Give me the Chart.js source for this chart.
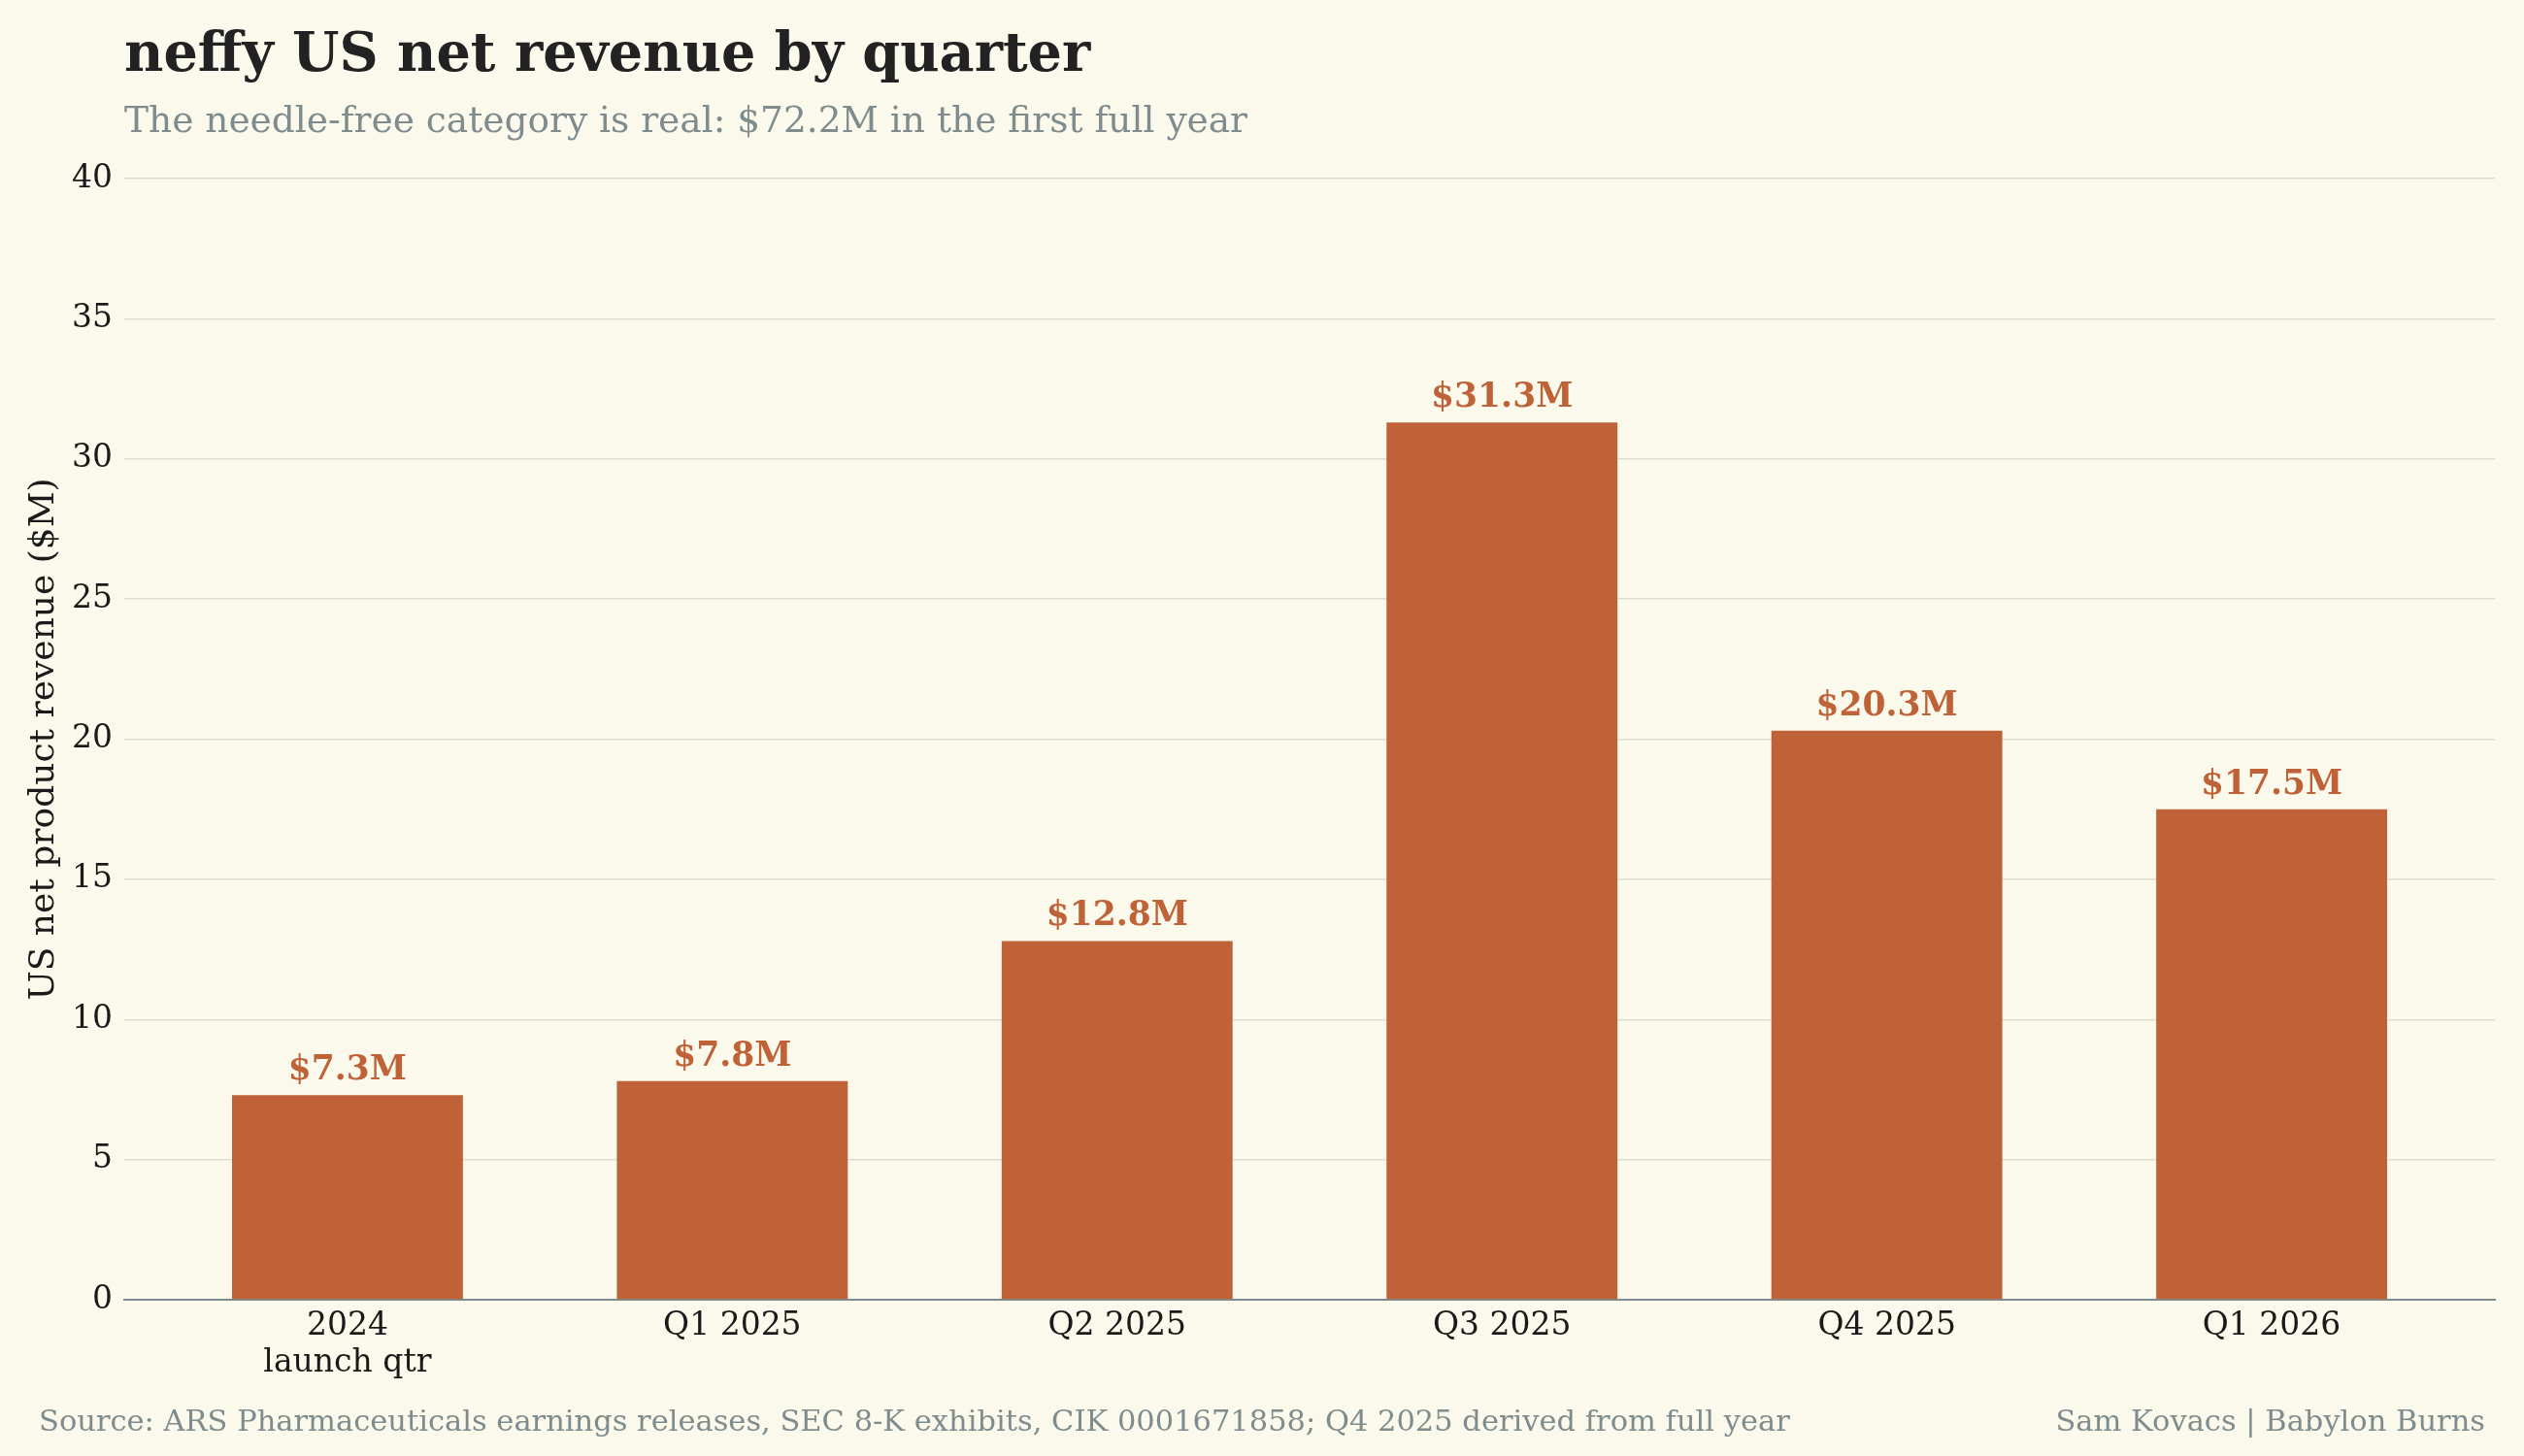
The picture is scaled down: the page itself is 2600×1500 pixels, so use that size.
<!DOCTYPE html>
<html>
<head>
<meta charset="utf-8">
<script src="https://cdn.jsdelivr.net/npm/chart.js@4/dist/chart.umd.min.js"></script>
<style>
  html, body { margin: 0; padding: 0; background: #fbf9ec; }
  #frame { position: relative; width: 2600px; height: 1500px; background: #fbf9ec; font-family: "DejaVu Serif", serif; }
  #chart { position: absolute; left: 0; top: 0; }
  .txt { position: absolute; white-space: nowrap; line-height: 1; }
  #title { left: 128px; top: 26px; font-size: 55.6px; font-weight: bold; color: #222; }
  #subtitle { left: 128px; top: 105px; font-size: 37.5px; color: #7f8c8d; }
  #source { left: 40px; top: 1449px; font-size: 30.5px; color: #7f8c8d; }
  #credit { right: 40px; top: 1449px; font-size: 30.5px; color: #7f8c8d; }
</style>
</head>
<body>
<div id="frame">
  <canvas id="chart" width="2600" height="1500"></canvas>
  <div class="txt" id="title">neffy US net revenue by quarter</div>
  <div class="txt" id="subtitle">The needle-free category is real: $72.2M in the first full year</div>
  <div class="txt" id="source">Source: ARS Pharmaceuticals earnings releases, SEC 8-K exhibits, CIK 0001671858; Q4 2025 derived from full year</div>
  <div class="txt" id="credit">Sam Kovacs | Babylon Burns</div>
</div>
<script>
const quarterLabels = [["2024", "launch qtr"], "Q1 2025", "Q2 2025", "Q3 2025", "Q4 2025", "Q1 2026"];
const revenueValues = [7.3, 7.8, 12.8, 31.3, 20.3, 17.5];
const valueLabels = ["$7.3M", "$7.8M", "$12.8M", "$31.3M", "$20.3M", "$17.5M"];
const yTicks = [0, 5, 10, 15, 20, 25, 30, 35, 40];

const BAR_COLOR = "#bf6237";
const FONT = "DejaVu Serif";

function createValueLabelPlugin() {
  return {
    id: "value-labels",
    afterDatasetsDraw(chart) {
      const { ctx } = chart;
      ctx.save();
      ctx.font = `bold 34.5px "${FONT}"`;
      ctx.fillStyle = BAR_COLOR;
      ctx.textAlign = "center";
      ctx.textBaseline = "alphabetic";
      const meta = chart.getDatasetMeta(0);
      meta.data.forEach((element, index) => {
        ctx.fillText(valueLabels[index], element.x, element.y - 16);
      });
      ctx.restore();
    },
  };
}

new Chart(document.getElementById("chart"), {
  type: "bar",
  data: {
    datasets: [{
      label: "US net product revenue",
      data: revenueValues.map((value, index) => ({ x: index, y: value })),
      backgroundColor: BAR_COLOR,
      categoryPercentage: 1,
      barPercentage: 0.6,
      borderWidth: 0,
    }],
  },
  options: {
    responsive: false,
    devicePixelRatio: 1,
    animation: false,
    layout: { padding: { left: 0, top: 184, right: 30, bottom: 0 } },
    plugins: {
      legend: { display: false },
      tooltip: { enabled: false },
    },
    scales: {
      x: {
        type: "linear",
        offset: false,
        min: -0.58,
        max: 5.58,
        afterBuildTicks(scale) {
          scale.ticks = quarterLabels.map((_, index) => ({ value: index }));
        },
        afterFit(scale) { scale.height = 161; },
        grid: { display: false, drawTicks: false },
        border: { display: true, color: "#7f8c8d", width: 2 },
        ticks: {
          callback: (value) => quarterLabels[value],
          font: { family: FONT, size: 33, lineHeight: 1.15 },
          color: "#1a1a1a",
          padding: 8,
          maxRotation: 0,
          autoSkip: false,
        },
      },
      y: {
        min: 0,
        max: 40,
        afterBuildTicks(scale) {
          scale.ticks = yTicks.map((value) => ({ value }));
        },
        afterFit(scale) { scale.width = 128; },
        grid: { color: "#deddd1", lineWidth: 1.5, drawTicks: false },
        border: { display: false },
        ticks: {
          font: { family: FONT, size: 33 },
          color: "#1a1a1a",
          padding: 12,
        },
        title: {
          display: true,
          text: "US net product revenue ($M)",
          font: { family: FONT, size: 36 },
          color: "#1a1a1a",
          padding: { top: 24, bottom: 0 },
        },
      },
    },
  },
  plugins: [createValueLabelPlugin()],
});
</script>
</body>
</html>
